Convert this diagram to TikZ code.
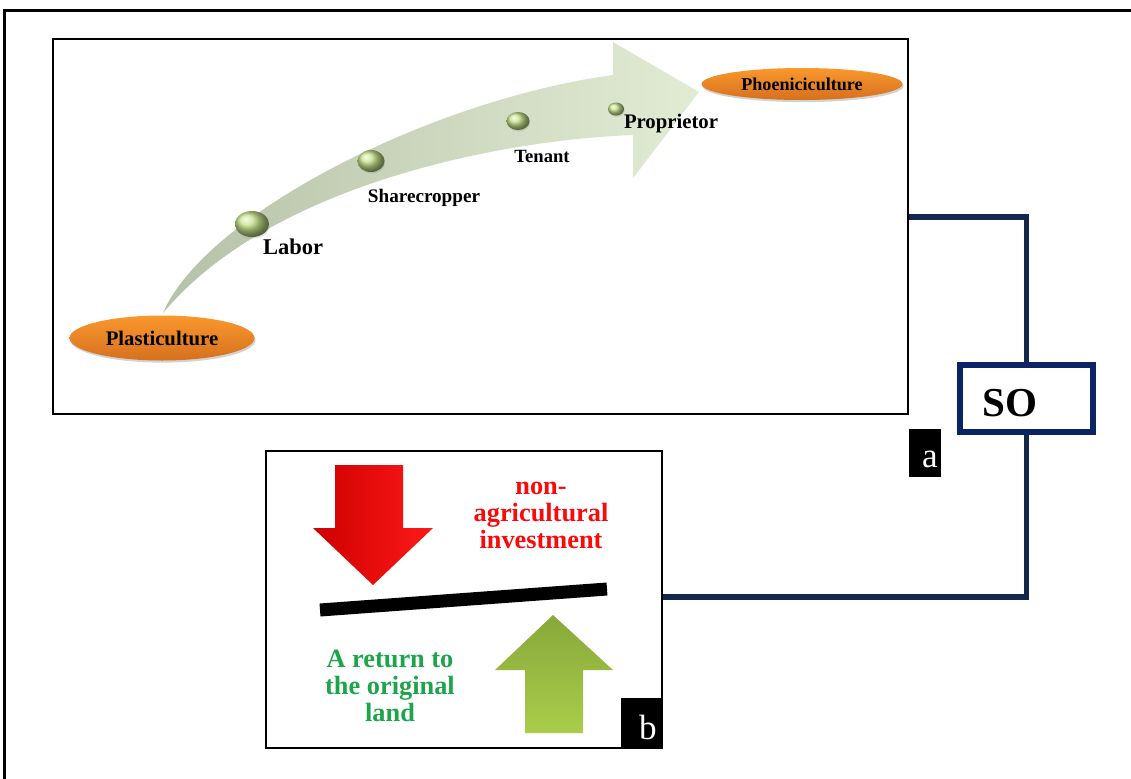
\documentclass[tikz,border=0pt]{standalone}
\usepackage{fontspec}
\setmainfont{Liberation Serif}
\usetikzlibrary{fit,shapes.geometric,shadows}
\definecolor{navy}{RGB}{19,40,74}
\definecolor{sonavy}{RGB}{12,35,102}
\definecolor{orTop}{RGB}{250,152,45}
\definecolor{orBot}{RGB}{214,112,30}
\definecolor{bandA}{RGB}{182,194,168}
\definecolor{bandB}{RGB}{226,236,212}
\definecolor{beadc}{RGB}{200,228,140}
\definecolor{redA}{RGB}{205,0,0}
\definecolor{redB}{RGB}{255,25,25}
\definecolor{grnA}{RGB}{135,168,58}
\definecolor{grnB}{RGB}{170,205,75}
\definecolor{txtred}{RGB}{250,10,10}
\definecolor{txtgrn}{RGB}{30,165,75}
\begin{document}
\begin{tikzpicture}[x=0.02cm,y=-0.02cm,
 panel/.style={draw=black,line width=1.1pt,inner sep=0pt},
 conn/.style={draw=navy,line width=2.9pt},
 sobox/.style={draw=sonavy,line width=3.2pt,inner sep=0pt,fill=white},
 tag/.style={fill=black,inner sep=0pt},
 tagtxt/.style={text=white,font=\fontsize{20}{20}\selectfont,inner sep=0pt},
 pill/.style={ellipse,top color=orTop,bottom color=orBot,draw=none,inner sep=0pt,
   drop shadow={opacity=0.35,shadow xshift=0.6pt,shadow yshift=-1.2pt}},
 bead/.style={ellipse,shading=ball,ball color=beadc,inner sep=0pt,
   drop shadow={opacity=0.25,shadow xshift=0.4pt,shadow yshift=-0.8pt}},
 steplabel/.style={font=\bfseries\fontsize{#1}{#1}\selectfont,inner sep=0pt},
 bigtext/.style={align=center,font=\bfseries\fontsize{15}{15.4}\selectfont,inner sep=0pt},
]
\useasboundingbox (0,0) rectangle (1131,778);
\fill[white] (0,0) rectangle (1131,778);
% outer frame
\draw[line width=2pt] (4.5,800) -- (4.5,10.5) -- (1150,10.5);

% panels
\node[panel,fit={(53,39) (908,414)}] (boxa) {};
\node[panel,fit={(266,451) (662,748)}] (boxb) {};

% curved band arrow
\shade[left color=bandA,right color=bandB]
  (163,313) .. controls (205,215) and (430,100) .. (613,75)
  -- (613,42) -- (699,92) -- (633,178) -- (633,135)
  .. controls (500,140) and (270,185) .. (163,313) -- cycle;

% beads
\node[bead,minimum width=0.68cm,minimum height=0.52cm] (b1) at (252,224) {};
\node[bead,minimum width=0.54cm,minimum height=0.44cm] (b2) at (371,161) {};
\node[bead,minimum width=0.46cm,minimum height=0.36cm] (b3) at (518,121) {};
\node[bead,minimum width=0.32cm,minimum height=0.26cm] (b4) at (616,109) {};

% labels on arrow
\node[steplabel=12.8] (labor) at (293,247) {Labor};
\node[steplabel=10.9] (share) at (424,198) {Sharecropper};
\node[steplabel=10.6] (tenant) at (542,156) {Tenant};
\node[steplabel=11.8] (prop) at (671,124) {Proprietor};

% pills
\node[pill,minimum width=3.7cm,minimum height=0.9cm,steplabel=11.8] (plast) at (162,338) {Plasticulture};
\node[pill,minimum width=4.02cm,minimum height=0.64cm,steplabel=10.3] (phoen) at (802,84) {Phoeniciculture};

% tags
\node[tag,fit={(909,429) (941,477)}] (taga) {};
\node[tagtxt] (taga-t) at (930,459) {a};
\node[tag,fit={(621,698) (661,747)}] (tagb) {};
\node[tagtxt] (tagb-t) at (648,727) {b};

% SO box
\node[sobox,fit={(960,365) (1093,432)}] (so) {};
\node[font=\bfseries\fontsize{23.4}{23.4}\selectfont,inner sep=0pt] (sotxt) at (1010,403) {SO};

% connectors
\coordinate (ya) at (0,217);
\coordinate (yb) at (0,597);
\draw[conn] (boxa.east |- ya) -| (so.north);
\draw[conn] (so.south) |- (boxb.east |- yb);

% box b contents
\shade[left color=redA,right color=redB]
  (335,465) -- (403,465) -- (403,528) -- (433,528) -- (373,585) -- (313,528) -- (335,528) -- cycle;
\draw[line width=7.4pt] (320,610) -- (607,589);
\shade[top color=grnA,bottom color=grnB]
  (553,615) -- (613,670) -- (583,670) -- (583,733) -- (525,733) -- (525,670) -- (495,670) -- cycle;
\node[bigtext,text=txtred] (redtxt) at (541,515) {non-\\agricultural\\investment};
\node[bigtext,text=txtgrn] (grntxt) at (390,686) {A return to\\the original\\land};
\end{tikzpicture}
\end{document}
